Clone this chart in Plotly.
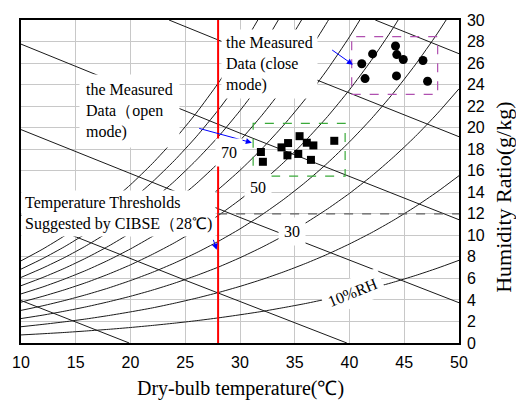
import plotly.graph_objects as go

# ---------------- data ----------------
temps = [10, 12, 14, 16, 18, 20, 22, 24, 26, 28, 30, 32, 34, 36, 38, 40, 42, 44, 46, 48, 50]

rh100_w = [7.63, 8.73, 9.97, 11.37, 12.94, 14.70, 16.67, 18.88, 21.35, 24.12, 27.20, 30.65]
rh90_w = [6.86, 7.85, 8.96, 10.21, 11.62, 13.20, 14.96, 16.94, 19.15, 21.62, 24.38, 27.45, 30.87]
rh80_w = [6.09, 6.97, 7.95, 9.06, 10.31, 11.70, 13.27, 15.01, 16.97, 19.14, 21.58, 24.28, 27.29, 30.64]
rh70_w = [5.32, 6.09, 6.95, 7.92, 9.00, 10.22, 11.58, 13.10, 14.79, 16.69, 18.80, 21.15, 23.75, 26.65, 29.87, 33.44]
rh60_w = [4.56, 5.21, 5.95, 6.77, 7.70, 8.74, 9.90, 11.19, 12.64, 14.25, 16.04, 18.04, 20.25, 22.70, 25.43, 28.44, 31.78]
rh50_w = [3.79, 4.34, 4.95, 5.63, 6.40, 7.26, 8.23, 9.30, 10.50, 11.83, 13.31, 14.96, 16.78, 18.81, 21.04, 23.52, 26.26, 29.28, 32.62]
rh40_w = [3.03, 3.46, 3.95, 4.50, 5.11, 5.80, 6.56, 7.42, 8.37, 9.43, 10.60, 11.91, 13.35, 14.95, 16.72, 18.68, 20.83, 23.21, 25.83, 28.71, 31.88]
rh30_w = [2.27, 2.59, 2.96, 3.37, 3.83, 4.34, 4.91, 5.55, 6.26, 7.04, 7.92, 8.89, 9.96, 11.15, 12.46, 13.90, 15.49, 17.25, 19.17, 21.29, 23.61]
rh20_w = [1.51, 1.73, 1.97, 2.24, 2.55, 2.89, 3.26, 3.69, 4.16, 4.68, 5.26, 5.90, 6.61, 7.39, 8.25, 9.20, 10.24, 11.39, 12.65, 14.03, 15.54]
rh10_w = [0.75, 0.86, 0.98, 1.12, 1.27, 1.44, 1.63, 1.84, 2.07, 2.33, 2.62, 2.93, 3.29, 3.67, 4.10, 4.57, 5.08, 5.64, 6.26, 6.94, 7.68]

# constant-enthalpy lines (20..120 kJ/kg): dry-bulb / humidity ratio points
h20_t, h20_w = [10, 15, 19.88], [3.95, 1.94, 0.0]
h40_t, h40_w = [10, 25, 39.76], [11.88, 5.83, 0.0]
h60_t, h60_w = [10, 30, 50], [19.82, 11.66, 3.74]
h80_t, h80_w = [10, 30, 50], [27.76, 19.49, 11.45]
h100_t, h100_w = [23.52, 36, 50], [30.0, 24.84, 19.16]
h120_t, h120_w = [42.35, 50], [30.0, 26.87]

# measured data
open_t = [31.91, 32.09, 33.79, 34.39, 34.33, 35.44, 35.32, 36.10, 36.70, 36.48, 38.61]
open_w = [17.74, 16.83, 18.17, 18.57, 17.43, 19.21, 17.56, 18.60, 18.35, 17.01, 18.78]
close_t = [41.12, 42.11, 41.42, 44.20, 44.32, 44.91, 46.71, 44.29, 47.13]
close_w = [25.94, 26.85, 24.56, 27.59, 26.79, 26.33, 26.24, 24.81, 24.31]

threshold_t = 28
threshold_w = 12
open_box = [31.2, 39.6, 15.5, 20.4]     # t0, t1, w0, w1
close_box = [40.2, 48.05, 23.1, 28.45]

x_ticks = [10, 15, 20, 25, 30, 35, 40, 45, 50]
y_ticks = list(range(0, 31, 2))

# ---------------- figure ----------------
SERIF = "Times New Roman, Liberation Serif, serif"
SANS = "Arial, Liberation Sans, sans-serif"
fig = go.Figure()

line_style = dict(color="#1a1a1a", width=1)
for w in [rh100_w, rh90_w, rh80_w, rh70_w, rh60_w, rh50_w, rh40_w, rh30_w, rh20_w, rh10_w]:
    fig.add_trace(go.Scatter(x=temps[:len(w)], y=w, mode="lines",
                             line=dict(color="#1a1a1a", width=1, shape="spline", smoothing=0.6),
                             hoverinfo="skip"))
for t, w in [(h20_t, h20_w), (h40_t, h40_w), (h60_t, h60_w), (h80_t, h80_w),
             (h100_t, h100_w), (h120_t, h120_w)]:
    fig.add_trace(go.Scatter(x=t, y=w, mode="lines", line=line_style, hoverinfo="skip"))

# threshold lines
fig.add_trace(go.Scatter(x=[threshold_t, threshold_t], y=[0, 30], mode="lines",
                         line=dict(color="#ff0000", width=2)))
fig.add_trace(go.Scatter(x=[threshold_t, 50], y=[threshold_w, threshold_w], mode="lines",
                         line=dict(color="#606060", width=1.2, dash="dash")))

# boxes
fig.add_shape(type="rect", x0=open_box[0], x1=open_box[1], y0=open_box[2], y1=open_box[3],
              line=dict(color="#3aaa3a", width=1.2, dash="dash"))
fig.add_shape(type="rect", x0=close_box[0], x1=close_box[1], y0=close_box[2], y1=close_box[3],
              line=dict(color="#b050b0", width=1.2, dash="dash"))

# measured points
fig.add_trace(go.Scatter(x=open_t, y=open_w, mode="markers",
                         marker=dict(symbol="square", size=8, color="black")))
fig.add_trace(go.Scatter(x=close_t, y=close_w, mode="markers",
                         marker=dict(symbol="circle", size=9, color="black")))

ann_font = dict(family=SERIF, size=16, color="black")
# arrows
for (hx, hy, tx, ty) in [(31.08, 18.6, 26.14, 19.97), (40.31, 25.85, 38.28, 27.31),
                         (27.87, 8.66, 27.52, 9.72)]:
    fig.add_annotation(x=hx, y=hy, ax=tx, ay=ty, xref="x", yref="y", axref="x", ayref="y",
                       text="", showarrow=True, arrowhead=2, arrowsize=1.2, arrowwidth=1,
                       arrowcolor="#0000ff")

# text blocks with white backgrounds
fig.add_annotation(x=15.3, y=21.58, text="the Measured<br>Data（open<br>mode)", xanchor="left",
                   yanchor="middle", align="left", showarrow=False, bgcolor="white",
                   borderpad=6, font=ann_font)
fig.add_annotation(x=28.22, y=25.94, text="the Measured<br>Data (close<br>mode)", xanchor="left",
                   yanchor="middle", align="left", showarrow=False, bgcolor="white",
                   borderpad=4, font=ann_font)
fig.add_annotation(x=10.02, y=11.99, text="Temperature Thresholds<br>Suggested by CIBSE（28℃)",
                   xanchor="left", yanchor="middle", align="left", showarrow=False,
                   bgcolor="white", borderpad=3, font=ann_font)
for (lx, ly, lt, ang) in [(29.01, 17.68, "70", 0), (31.61, 14.47, "50", 0),
                          (34.75, 10.34, "30", 0), (40.31, 4.65, "10%RH", -22)]:
    fig.add_annotation(x=lx, y=ly, text=lt, showarrow=False, bgcolor="white", borderpad=5,
                       textangle=ang, font=ann_font)

# axis titles
fig.add_annotation(xref="paper", yref="paper", x=0.5, y=-0.14, text="Dry-bulb temperature(℃)",
                   showarrow=False, xanchor="center", yanchor="middle",
                   font=dict(family=SERIF, size=20, color="black"))
fig.add_annotation(xref="paper", yref="paper", x=1.103, y=0.45, text="Humidity Ratio(g/kg)",
                   showarrow=False, xanchor="center", yanchor="middle", textangle=-90,
                   font=dict(family=SERIF, size=22, color="black"))

axis_common = dict(showgrid=True, gridcolor="#c8c8c8", gridwidth=1, zeroline=False,
                   showline=True, linecolor="black", linewidth=1.5, mirror=True,
                   ticks="", tickfont=dict(family=SANS, size=16, color="black"))
fig.update_xaxes(range=[10, 50], tickvals=x_ticks, ticklabelstandoff=4, **axis_common)
fig.update_yaxes(range=[0, 30], tickvals=y_ticks, side="right", ticklabelstandoff=3,
                 **axis_common)

fig.update_layout(width=516, height=401, margin=dict(l=13, r=57, t=15, b=58),
                  paper_bgcolor="white", plot_bgcolor="white", showlegend=False)

fig.write_html("out.html")
